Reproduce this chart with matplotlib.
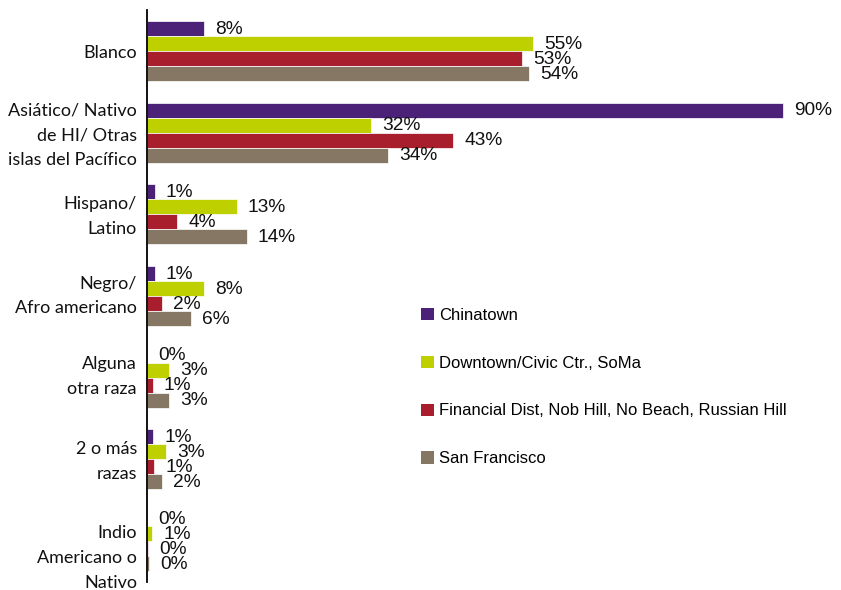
import numpy as np
import matplotlib.pyplot as plt
from matplotlib.patches import Patch

# ---------------------------
# Data (percent of population by race)
# ---------------------------
categories = [
    'Blanco',
    'Asiático/ Nativo\nde HI/ Otras\nislas del Pacífico',
    'Hispano/\nLatino',
    'Negro/\nAfro americano',
    'Alguna\notra raza',
    '2 o más\nrazas',
    'Indio\nAmericano o\nNativo',
]
series_names = [
    'Chinatown',
    'Downtown/Civic Ctr., SoMa',
    'Financial Dist, Nob Hill, No Beach, Russian Hill',
    'San Francisco',
]
chinatown = [8.1, 90.0, 1.1, 1.1, 0.0, 0.9, 0.0]
downtown = [54.6, 31.7, 12.7, 8.1, 3.1, 2.7, 0.7]
financial = [53.1, 43.3, 4.3, 2.1, 0.8, 1.0, 0.2]
san_francisco = [54.1, 34.1, 14.1, 6.2, 3.1, 2.1, 0.3]

colors = ['#4c2278', '#bed000', '#a81e2d', '#867664']

# ---------------------------
# Plot
# ---------------------------
fig = plt.figure(figsize=(8.41, 5.90), dpi=100)
ax = fig.add_axes([147 / 841, 8 / 590, 1 - 147 / 841, 572 / 590])

all_series = [chinatown, downtown, financial, san_francisco]
y = np.arange(len(categories))
h = 0.1835

for i, (vals, col) in enumerate(zip(all_series, colors)):
    pos = y + (i - 1.5) * h
    ax.barh(pos, vals, height=h, color=col, edgecolor='white', linewidth=0.5)
    for p, v in zip(pos, vals):
        ax.annotate(f'{v:.0f}%', xy=(v, p), xytext=(8, -0.5), textcoords='offset points',
                    ha='left', va='center', fontsize=13.8, family='Liberation Sans',
                    color='#111111')

ax.set_xlim(0, 98.2)
ax.set_ylim(len(categories) - 0.5, -0.5)
ax.set_xticks([])
ax.set_yticks([])
for s in ['top', 'right', 'bottom']:
    ax.spines[s].set_visible(False)
ax.spines['left'].set_linewidth(1.3)

# category labels (multi-line, right aligned next to the axis)
label_shift = [0.03, 0.03, 0.03, 0.0, -0.01, 0.03, 0.21]
for yi, cat, dy in zip(y, categories, label_shift):
    ax.text(-10 / 7.067, yi + dy, cat, ha='right', va='center', multialignment='right',
            fontsize=13, family='Lato', linespacing=1.68, color='#111111')

handles = [Patch(facecolor=c, edgecolor='none') for c in colors]
fig.legend(handles, series_names, loc='center left', bbox_to_anchor=(406 / 841, 1 - 387 / 590),
           frameon=False, handlelength=0.75, handleheight=0.75, handletextpad=0.35,
           labelspacing=1.97, prop={'family': ['Liberation Sans Narrow', 'Liberation Sans'], 'size': 12})

plt.savefig('out.png', dpi=100)
plt.close()
